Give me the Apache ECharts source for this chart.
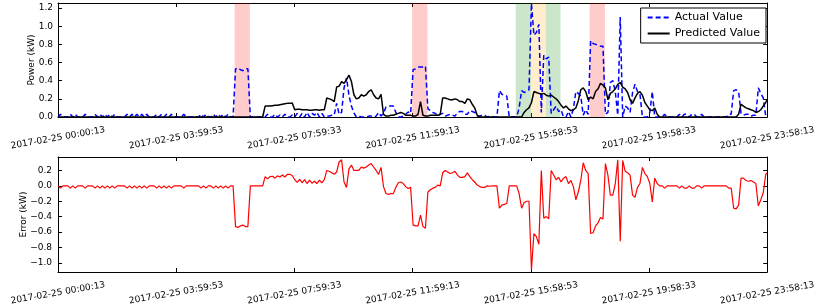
<!DOCTYPE html>
<html>
<head>
<meta charset="utf-8">
<script src="https://cdn.jsdelivr.net/npm/echarts@6/dist/echarts.min.js"></script>
<style>
html,body{margin:0;padding:0;background:#fff;}
#chart{width:818px;height:308px;}
</style>
</head>
<body>
<div id="chart"></div>
<script>
// ---- data (5-minute samples from 2017-02-25 00:00:13; last sample at 23:58:13) ----
const xTickLabels = ['2017-02-25 00:00:13','2017-02-25 03:59:53','2017-02-25 07:59:33','2017-02-25 11:59:13','2017-02-25 15:58:53','2017-02-25 19:58:33','2017-02-25 23:58:13'];
const spanMinutes = 1438;
const powerTicks = [0, 0.2, 0.4, 0.6, 0.8, 1.0, 1.2];
const errorTicks = [-1.0, -0.8, -0.6, -0.4, -0.2, 0.0, 0.2];

const actual = [
0,0.03,0,0,0,0.03,0,0.03,0,0,
0,0.03,0,0,0,0.03,0,0.03,0,0.03,
0,0.03,0,0.03,0,0,0,0,0.03,0,
0.03,0,0.03,0,0.03,0,0.03,0,0,0,
0.03,0,0.03,0,0.03,0,0.03,0,0,0,
0,0.03,0,0,0,0,0,0,0.03,0,
0.03,0,0,0.03,0,0.03,0,0.03,0,0.03,
0,0,0.53,0.54,0.52,0.51,0.53,0.53,0,0,
0,0,0,0,0,0.03,0,0,0.03,0,
0.02,0,0.03,0,0,0.02,0,0.04,0,0.04,
0,0.05,0,0.04,0.02,0.05,0,0.04,0,0.01,
0.01,0.02,0.02,0.15,0.03,0.05,0.32,0.43,0.24,0.12,
0.045,0,0.01,0,0,0,0.01,0.01,0,0.01,
0.05,0.01,0.04,0.11,0.12,0.12,0.12,0.05,0,0,
0.01,0.03,0.055,0.04,0.52,0.53,0.55,0.55,0.55,0.56,
0.09,0.07,0.05,0.04,0.01,0.03,0.04,0.01,0.02,0.03,
0.02,0.01,0.05,0.06,0.06,0.03,0.03,0.07,0.06,0.05,
0.01,0.01,0.02,0.02,0,0.005,0,0,0,0.29,
0.25,0.24,0.23,0,0,0,0,0.10,0.29,0.27,
0.28,0.30,1.25,0.90,0.93,1.02,0.05,0.68,0.64,0.66,
0.04,0.08,0.12,0.06,0.08,0,0,0.06,0,0.09,
0.28,0.26,0.23,0.02,0.08,0.03,0.84,0.81,0.80,0.79,
0.78,0.78,0.03,0.05,0.38,0.40,0.28,0.02,1.10,0,
0.12,0.10,0.05,0.27,0.36,0.28,0.25,0,0,0,
0.05,0.28,0,0,0,0,0.03,0,0,0,
0,0,0.03,0,0.03,0.03,0,0.03,0.03,0,
0,0.03,0,0,0,0,0,0,0,0,
0,0,0.03,0.03,0.29,0.30,0.28,0.04,0.02,0.03,
0.03,0.01,0.02,0.02,0.32,0.26,0.21,0.01,
0.02
];

const predicted = [
0,0,0,0,0,0,0,0,0,0,
0,0,0,0,0,0,0,0,0,0,
0,0,0,0,0,0,0,0,0,0,
0,0,0,0,0,0,0,0,0,0,
0,0,0,0,0,0,0,0,0,0,
0,0,0,0,0,0,0,0,0,0,
0,0,0,0,0,0,0,0,0,0,
0,0,0,0,0,0,0,0,0,0,
0,0,0,0,0.12,0.12,0.12,0.125,0.13,0.13,
0.135,0.14,0.145,0.15,0.15,0.155,0.08,0.085,0.085,0.08,
0.08,0.08,0.075,0.075,0.08,0.08,0.075,0.08,0.08,0.21,
0.20,0.19,0.17,0.33,0.34,0.39,0.37,0.41,0.46,0.39,
0.245,0.20,0.21,0.245,0.23,0.245,0.28,0.30,0.245,0.21,
0.20,0.25,0.03,0.01,0.01,0.02,0.02,0.03,0.04,0.05,
0.04,0.02,0.02,0.02,0.01,0.01,0.03,0.17,0.02,0.01,
0.01,0.02,0.02,0.02,0.02,0.03,0.21,0.21,0.20,0.19,
0.19,0.20,0.19,0.17,0.17,0.15,0.20,0.19,0.14,0.10,
0.02,0,0,0,0,0,0,0,0,0,
0,0,0,0,0,0,0,0,0,0.05,
0.08,0.10,0.16,0.28,0.27,0.26,0.25,0.26,0.24,0.23,
0.24,0.22,0.20,0.17,0.13,0.10,0.12,0.09,0.07,0.08,
0.10,0.18,0.30,0.32,0.28,0.19,0.22,0.20,0.28,0.31,
0.37,0.35,0.32,0.19,0.26,0.28,0.31,0.36,0.38,0.33,
0.31,0.27,0.19,0.15,0.21,0.26,0.28,0.24,0.16,0.12,
0.08,0.07,0.10,0.03,0,0,0,0,0,0,
0,0,0,0,0,0,0,0,0,0,
0,0,0,0,0,0,0,0,0,0,
0,0,0,0,0,0,0.03,0.14,0.12,0.10,
0.09,0.08,0.07,0.05,0.06,0.08,0.12,0.16,
0.19
];

const errorVals = [
0,-0.03,0,0,0,-0.03,0,-0.03,0,0,
0,-0.03,0,0,0,-0.03,0,-0.03,0,-0.03,
0,-0.03,0,-0.03,0,0,0,0,-0.03,0,
-0.03,0,-0.03,0,-0.03,0,-0.03,0,0,0,
-0.03,0,-0.03,0,-0.03,0,-0.03,0,0,0,
0,-0.03,0,0,0,0,0,0,-0.03,0,
-0.03,0,0,-0.03,0,-0.03,0,-0.03,0,-0.03,
0,0,-0.53,-0.54,-0.52,-0.51,-0.53,-0.53,0,0,
0,0,0,0,0.12,0.09,0.12,0.125,0.10,0.13,
0.115,0.14,0.115,0.15,0.15,0.135,0.08,0.045,0.085,0.04,
0.08,0.03,0.075,0.035,0.06,0.03,0.075,0.04,0.08,0.20,
0.19,0.17,0.15,0.18,0.31,0.34,0.05,-0.02,0.22,0.27,
0.20,0.20,0.20,0.245,0.23,0.245,0.27,0.29,0.245,0.20,
0.15,0.24,-0.01,-0.10,-0.11,-0.10,-0.10,-0.02,0.04,0.05,
0.03,-0.01,-0.035,-0.02,-0.51,-0.52,-0.52,-0.38,-0.53,-0.55,
-0.08,-0.05,-0.03,-0.02,0.01,0,0.17,0.20,0.18,0.16,
0.17,0.19,0.14,0.11,0.11,0.12,0.17,0.12,0.08,0.05,
0.01,-0.01,-0.02,-0.02,0,-0.005,0,0,0,-0.29,
-0.25,-0.24,-0.23,0,0,0,0,-0.10,-0.29,-0.22,
-0.20,-0.20,-1.09,-0.62,-0.66,-0.76,0.20,-0.42,-0.40,-0.43,
0.20,0.14,0.08,0.11,0.05,0.10,0.12,0.03,0.07,-0.01,
-0.18,-0.08,0.07,0.30,0.20,0.16,-0.62,-0.61,-0.52,-0.48,
-0.41,-0.43,0.29,0.14,-0.12,-0.12,0.03,0.34,-0.72,0.33,
0.19,0.17,0.14,-0.12,-0.15,-0.02,0.03,0.24,0.16,0.12,
0.03,-0.21,0.10,0.03,0,0,-0.03,0,0,0,
0,0,-0.03,0,-0.03,-0.03,0,-0.03,-0.03,0,
0,-0.03,0,0,0,0,0,0,0,0,
0,0,-0.03,-0.03,-0.29,-0.30,-0.25,0.10,0.10,0.07,
0.06,0.07,0.05,0.03,-0.26,-0.18,-0.09,0.15,
0.17
];

// highlighted periods (minutes from start) and their kind
const spanStart = [358, 718, 928, 959, 989, 1078];
const spanEnd   = [389, 749, 959, 989, 1019, 1109];
const spanKind  = ['red', 'red', 'green', 'orange', 'green', 'red'];

// ---- chart ----
const spanColors = { red: 'rgba(255,0,0,0.2)', green: 'rgba(0,128,0,0.2)', orange: 'rgba(255,165,0,0.2)' };
const minutes = actual.map((_, i) => i < actual.length - 1 ? i * 5 : spanMinutes);
const pairs = arr => arr.map((v, i) => [minutes[i], v]);
const xTickValues = xTickLabels.map((_, i) => i * spanMinutes / 6);
const FONT = 'DejaVu Sans';
const fmtNum = v => v.toFixed(1).replace('-', '\u2212');

function xAx(grid, pos, showLabel) {
  return {
    type: 'value', gridIndex: grid, position: pos, min: 0, max: spanMinutes,
    axisLine: { show: true, onZero: false, lineStyle: { color: '#000', width: 1 } },
    axisTick: { show: true, inside: true, length: 4, customValues: xTickValues, lineStyle: { color: '#000' } },
    splitLine: { show: false },
    axisLabel: {
      show: showLabel, customValues: xTickValues, rotate: 10, align: 'center', verticalAlign: 'middle',
      margin: 21, fontFamily: FONT, fontSize: 9, color: '#000', hideOverlap: false,
      formatter: v => xTickLabels[Math.round(v / (spanMinutes / 6))]
    }
  };
}
function yAx(grid, pos, min, max, ticks, showLabel, name, gap, margin) {
  return {
    type: 'value', gridIndex: grid, position: pos, min: min, max: max,
    name: showLabel ? name : '', nameLocation: 'middle', nameGap: gap, nameRotate: 90,
    nameMoveOverlap: false,
    nameTextStyle: { fontFamily: FONT, fontSize: 9, color: '#000' },
    axisLine: { show: true, onZero: false, lineStyle: { color: '#000', width: 1 } },
    axisTick: { show: true, inside: true, length: 4, customValues: ticks, lineStyle: { color: '#000' } },
    splitLine: { show: false },
    axisLabel: { show: showLabel, customValues: ticks, margin: margin, fontFamily: FONT, fontSize: 9, color: '#000', formatter: fmtNum }
  };
}

const chart = echarts.init(document.getElementById('chart'), null, { renderer: 'canvas' });
chart.setOption({
  animation: false,
  backgroundColor: '#fff',
  grid: [
    { left: 58, right: 47, top: 3, height: 114 },
    { left: 58, right: 47, top: 157, height: 115 }
  ],
  xAxis: [xAx(0, 'bottom', true), xAx(0, 'top', false), xAx(1, 'bottom', true), xAx(1, 'top', false)],
  yAxis: [
    yAx(0, 'left', 0, 1.255, powerTicks, true, 'Power (kW)', 22, 5),
    yAx(0, 'right', 0, 1.255, powerTicks, false, '', 0, 5),
    yAx(1, 'left', -1.12, 0.375, errorTicks, true, 'Error (kW)', 30, 6),
    yAx(1, 'right', -1.12, 0.375, errorTicks, false, '', 0, 6)
  ],
  legend: {
    data: ['Actual Value', 'Predicted Value'],
    orient: 'vertical', right: 52, top: 8,
    backgroundColor: '#fff', borderColor: '#000', borderWidth: 1, borderRadius: 0,
    padding: [4, 6, 4, 6], itemGap: 5, itemWidth: 22, itemHeight: 10,
    itemStyle: { opacity: 0 },
    textStyle: { fontFamily: FONT, fontSize: 11, color: '#000' }
  },
  series: [
    {
      name: 'spans', type: 'line', xAxisIndex: 0, yAxisIndex: 0, data: [], z: 1, silent: true,
      markArea: {
        silent: true,
        data: spanStart.map((s, i) => [{ xAxis: s, itemStyle: { color: spanColors[spanKind[i]] } }, { xAxis: spanEnd[i] }])
      }
    },
    {
      name: 'Actual Value', type: 'line', xAxisIndex: 0, yAxisIndex: 0, data: pairs(actual),
      symbol: 'none', z: 3, lineStyle: { color: '#0000ff', width: 1.5, type: [5, 3] }, itemStyle: { color: '#0000ff' }
    },
    {
      name: 'Predicted Value', type: 'line', xAxisIndex: 0, yAxisIndex: 0, data: pairs(predicted),
      symbol: 'none', z: 4, lineStyle: { color: '#000', width: 1.5 }, itemStyle: { color: '#000' }
    },
    {
      name: 'Error', type: 'line', xAxisIndex: 2, yAxisIndex: 2, data: pairs(errorVals),
      symbol: 'none', z: 3, lineStyle: { color: '#ff0000', width: 1.2 }, itemStyle: { color: '#ff0000' }
    }
  ]
});
</script>
</body>
</html>
